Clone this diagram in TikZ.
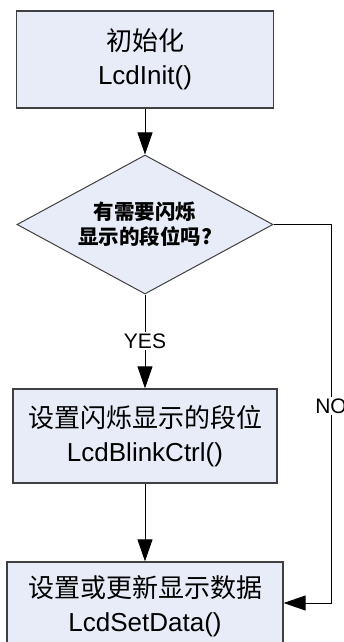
\documentclass[tikz,border=0pt]{standalone}
\usepackage{fontspec}
\setmainfont{Liberation Sans}
\newfontfamily\cjk{Noto Sans CJK SC}
\usetikzlibrary{arrows.meta,shapes.geometric}
\definecolor{boxfill}{RGB}{232,236,248}
\definecolor{boxline}{RGB}{64,64,64}
\begin{document}
\begin{tikzpicture}[x=1pt,y=1pt,
  box/.style={draw=boxline, fill=boxfill, line width=1.3pt, rectangle, inner sep=0pt, align=center, font=\fontsize{26}{34}\selectfont},
  dec/.style={draw=boxline, fill=boxfill, line width=1pt, diamond, aspect=2, inner sep=0pt, minimum width=256pt, minimum height=139pt, align=center, font=\fontsize{20.5}{25}\selectfont\bfseries},
  flow/.style={line width=0.9pt, -{Triangle[length=22pt,width=15pt]}},
  lbl/.style={fill=white, inner sep=1.5pt, font=\fontsize{21}{21}\selectfont}]
\clip (0,0) rectangle (344,-642);
\fill[white] (0,0) rectangle (344,-642);
\node[box, minimum width=257pt, minimum height=97pt] (init) at (145,-59.5) {{\cjk 初始化}\\LcdInit()};
\node[dec] (q) at (145,-224.5) {{\cjk 有需要闪烁}\\{\cjk 显示的段位吗?}};
\node[box, minimum width=264pt, minimum height=94pt] (blink) at (145,-436) {{\cjk 设置闪烁显示的段位}\\LcdBlinkCtrl()};
\node[box, minimum width=276pt, minimum height=88pt] (data) at (145,-606) {{\cjk 设置或更新显示数据}\\LcdSetData()};
\coordinate (c1) at (331,-224.5);
\coordinate (c2) at (331,-603);
\draw[flow] (init) -- (q);
\draw[flow] (q) -- node[lbl]{YES} (blink);
\draw[flow] (blink) -- (data);
\draw[flow] (q.east) -- (c1) -- node[lbl, pos=0.48]{NO} (c2) -- (data.east |- c2);
\end{tikzpicture}
\end{document}
